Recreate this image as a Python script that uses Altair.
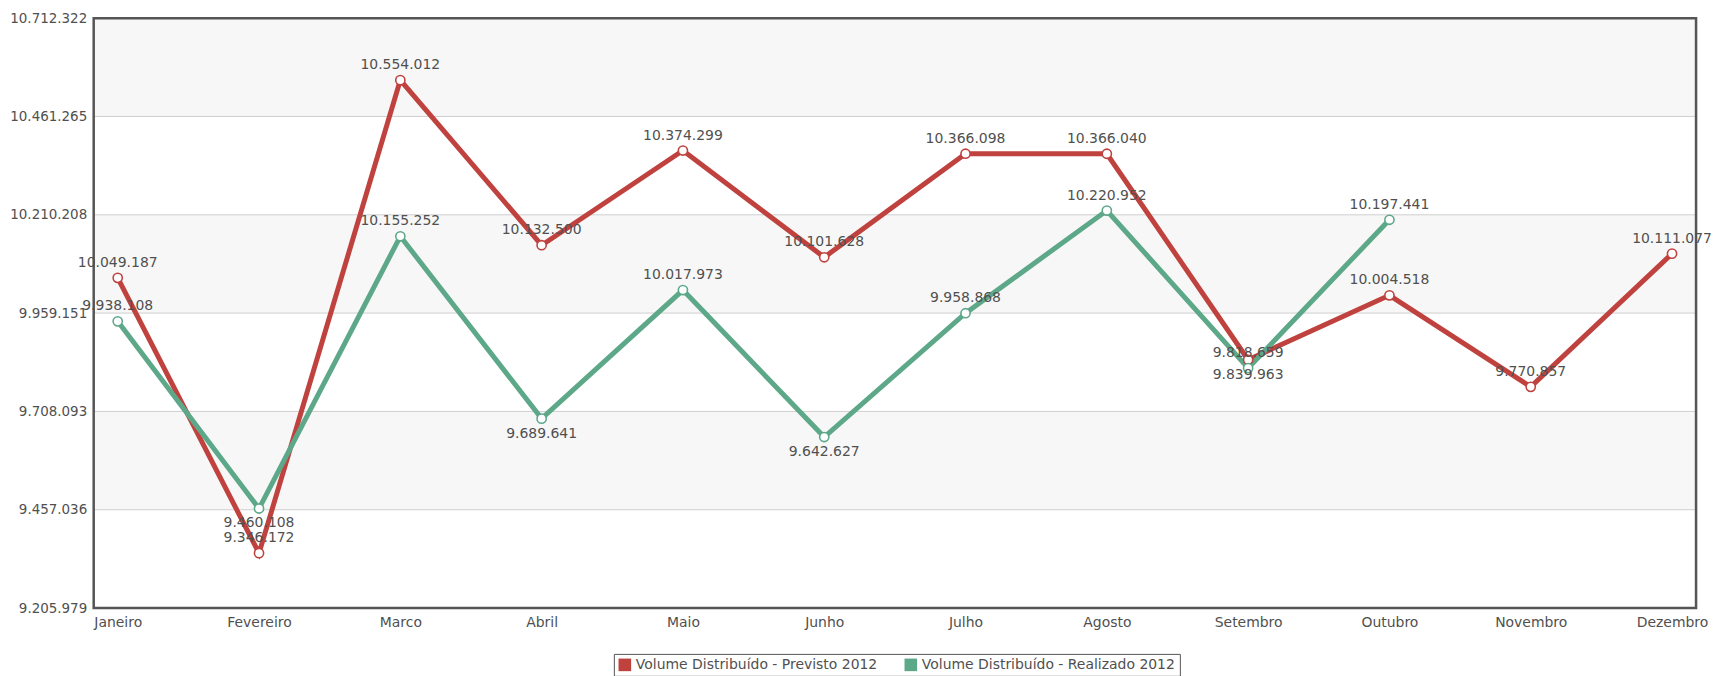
import altair as alt
import pandas as pd

# ---------------- data ----------------
meses = ["Janeiro", "Fevereiro", "Marco", "Abril", "Maio", "Junho", "Julho",
         "Agosto", "Setembro", "Outubro", "Novembro", "Dezembro"]
previsto = [10049187, 9346172, 10554012, 10132500, 10374299, 10101628,
            10366098, 10366040, 9839963, 10004518, 9770857, 10111077]
realizado = [9938108, 9460108, 10155252, 9689641, 10017973, 9642627,
             9958868, 10220952, 9818659, 10197441, None, None]
series = ["Volume Distribuído - Previsto 2012", "Volume Distribuído - Realizado 2012"]
y_ticks = [9205979, 9457036, 9708093, 9959151, 10210208, 10461265, 10712322]

# ---------------- styling / layout config ----------------
colors = ["#c0423f", "#5ea88a"]
label_below = {series[0]: ["Setembro"], series[1]: ["Fevereiro", "Abril", "Junho"]}
FONT = "DejaVu Sans"
TXT = "#505050"
BORDER = "#555555"

rows = []
for serie, vals in zip(series, [previsto, realizado]):
    for m, v in zip(meses, vals):
        if v is None:
            continue
        rows.append({"mes": m, "valor": v, "serie": serie,
                     "pos": "below" if m in label_below[serie] else "above"})
df = pd.DataFrame(rows)

bands = pd.DataFrame([{"y0": y_ticks[i], "y1": y_ticks[i + 1]}
                      for i in range(len(y_ticks) - 1) if i % 2 == 1])
grid = pd.DataFrame({"v": y_ticks})

y_scale = alt.Scale(domain=[y_ticks[0], y_ticks[-1]], nice=False, zero=False)
color_scale = alt.Scale(domain=series, range=colors)
x_enc = alt.X("mes:N", sort=meses, title=None,
              scale=alt.Scale(type="point", padding=0.17),
              axis=alt.Axis(labelAngle=0, ticks=False, labelPadding=8, grid=False,
                            domain=False,
                            labelFont=FONT, labelFontSize=14, labelColor=TXT))
y_enc = alt.Y("valor:Q", scale=y_scale, title=None,
              axis=alt.Axis(values=y_ticks, format=",d", ticks=False, grid=False,
                            labelPadding=7, domain=False,
                            labelFont=FONT, labelFontSize=13.5, labelColor=TXT))

band_layer = alt.Chart(bands).mark_rect(color="#f7f7f7").encode(
    x=alt.value(0), x2=alt.value("width"),
    y=alt.Y("y0:Q", scale=y_scale, title=None), y2="y1:Q")

grid_layer = alt.Chart(grid).mark_rule(color="#cfcfcf", strokeWidth=1).encode(
    y=alt.Y("v:Q", scale=y_scale, title=None))

border_layer = alt.Chart(pd.DataFrame({"k": [0]})).mark_rect(
    filled=False, stroke=BORDER, strokeWidth=2.5, fill=None).encode(
    x=alt.value(0), x2=alt.value("width"), y=alt.value(0), y2=alt.value("height"))

base = alt.Chart(df).encode(x=x_enc, y=y_enc)

legend_layer = base.mark_square(opacity=0, size=1).encode(
    color=alt.Color("serie:N", scale=color_scale,
                    legend=alt.Legend(
                        title=None, orient="none", direction="horizontal",
                        legendX=522, legendY=638,
                        symbolType="square", symbolSize=160, symbolStrokeWidth=0,
                        symbolOpacity=1,
                        labelFont=FONT, labelFontSize=14, labelColor=TXT,
                        labelLimit=400, columnPadding=26,
                        strokeColor=BORDER, padding=4)))

line_layer = base.mark_line(strokeWidth=5).encode(
    color=alt.Color("serie:N", scale=color_scale, legend=None))
point_layer = base.mark_point(filled=False, fill="white", fillOpacity=1,
                              size=85, strokeWidth=1.6, opacity=1).encode(
    color=alt.Color("serie:N", scale=color_scale, legend=None))

text_above = base.transform_filter(alt.datum.pos == "above").mark_text(
    dy=-15, baseline="middle", font=FONT, fontSize=14, color=TXT).encode(
    text=alt.Text("valor:Q", format=",d"))
text_below = base.transform_filter(alt.datum.pos == "below").mark_text(
    dy=15, baseline="middle", font=FONT, fontSize=14, color=TXT).encode(
    text=alt.Text("valor:Q", format=",d"))

chart = alt.layer(band_layer, grid_layer, border_layer, legend_layer, line_layer,
                  point_layer, text_above, text_below).properties(
    width=1608, height=592,
    autosize=alt.AutoSizeParams(type="none"),
    padding={"left": 86, "top": 9, "right": 15, "bottom": 67},
    background="white",
).configure_view(stroke=None).configure(
    locale={"number": {"decimal": ",", "thousands": ".", "grouping": [3],
                       "currency": ["R$", ""]}}
)

chart.save("out.html", embed_options={"renderer": "svg", "actions": False})
